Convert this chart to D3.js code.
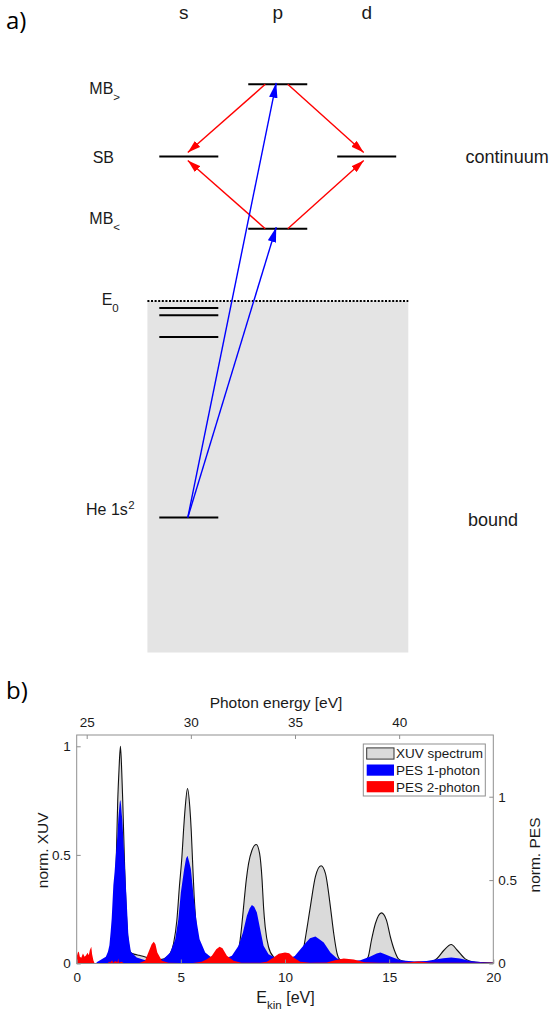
<!DOCTYPE html>
<html>
<head>
<meta charset="utf-8">
<script src="https://cdn.jsdelivr.net/npm/d3@7"></script>
<style>
  html, body { margin: 0; padding: 0; background: #fff; }
  svg { display: block; }
  text { font-family: "Liberation Sans", Arial, Helvetica, sans-serif; fill: #1a1a1a; }
  .panel-tag { font-family: "Open Sans", "Liberation Sans", sans-serif; font-size: 24px; fill: #000; }
</style>
</head>
<body>
<svg id="fig" width="553" height="1011"></svg>
<script>
// ---------------- Panel a: level scheme ----------------
const columns = ["s", "p", "d"];

// energy of each level in schematic units (E0 = 0)
const levelCols     = ["p", "s", "d", "p", "s", "s", "s", "s"];
const levelEnergies = [3, 2, 2, 1, -0.10, -0.20, -0.50, -3];

const thresholdEnergy = 0;     // E0
const boundBottom = -4.87;     // lower edge of the shaded bound region

// level names on the left: [main text, subscript, superscript, energy]
const levelNames = [
  ["MB", ">", "", 3],
  ["SB", "", "", 2],
  ["MB", "<", "", 1],
  ["E", "0", "", 0],
  ["He 1s", "", "2", -3]
];

// red: IR transitions MB -> SB ; blue: XUV transitions from the ground state
const irArrows = [
  [["p", 3], ["s", 2]],
  [["p", 3], ["d", 2]],
  [["p", 1], ["s", 2]],
  [["p", 1], ["d", 2]]
];
const xuvArrows = [
  [["s", -3], ["p", 3]],
  [["s", -3], ["p", 1]]
];

// ---------------- Panel b: spectra ----------------
// [E_kin (eV), normalised XUV intensity]
const xuvSpectrum = [
  [0,0],[1.0,0],[1.4,0.005],[1.6,0.02],[1.7,0.05],[1.8,0.18],[1.9,0.48],[1.97,0.75],[2.03,0.89],
  [2.1,1.0],[2.16,0.89],[2.21,0.75],[2.3,0.45],[2.4,0.2],[2.5,0.08],[2.6,0.05],[2.8,0.042],
  [3.0,0.038],[3.37,0.028],[3.7,0.022],[4.0,0.018],[4.2,0.022],[4.33,0.03],[4.49,0.046],
  [4.65,0.092],[4.81,0.2],[4.93,0.353],[5.05,0.49],[5.13,0.614],[5.21,0.72],[5.32,0.806],
  [5.43,0.72],[5.5,0.61],[5.56,0.476],[5.64,0.307],[5.74,0.169],[5.85,0.077],[6.09,0.03],
  [6.4,0.018],[6.8,0.012],[7.2,0.012],[7.5,0.02],[7.7,0.045],[7.82,0.09],[7.93,0.18],
  [8.04,0.29],[8.14,0.384],[8.25,0.46],[8.41,0.52],[8.62,0.548],[8.78,0.507],[8.9,0.384],
  [8.97,0.26],[9.05,0.168],[9.21,0.076],[9.45,0.03],[9.8,0.012],[10.2,0.008],[10.5,0.012],
  [10.7,0.02],[10.85,0.05],[11.0,0.13],[11.1,0.19],[11.24,0.276],[11.46,0.4],[11.73,0.45],
  [11.94,0.415],[12.18,0.261],[12.34,0.138],[12.5,0.046],[12.66,0.016],[12.9,0.01],
  [13.3,0.008],[13.8,0.01],[13.99,0.03],[14.15,0.107],[14.34,0.184],[14.63,0.233],
  [14.87,0.2],[15.06,0.122],[15.25,0.061],[15.46,0.02],[15.7,0.01],[16.2,0.005],
  [16.8,0.005],[17.1,0.01],[17.3,0.023],[17.63,0.061],[17.98,0.0875],[18.27,0.061],
  [18.67,0.02],[19.0,0.008],[19.5,0.004],[20,0.002]
];

// [E_kin (eV), normalised one-photon photoelectron yield]
const pes1Photon = [
  [0,0],[0.9,0],[1.0,0.01],[1.2,0.025],[1.4,0.04],[1.5,0.07],[1.57,0.11],[1.63,0.19],
  [1.68,0.27],[1.76,0.47],[1.82,0.55],[1.89,0.67],[1.95,0.76],[2.0,0.87],[2.04,0.93],
  [2.07,0.97],[2.1,0.98],[2.13,0.95],[2.16,0.9],[2.19,0.86],[2.25,0.72],[2.32,0.57],
  [2.4,0.37],[2.48,0.17],[2.6,0.07],[2.88,0.036],[3.37,0.016],[3.68,0.01],[4.16,0.026],
  [4.49,0.066],[4.73,0.146],[4.88,0.266],[5.0,0.426],[5.16,0.566],[5.25,0.63],[5.32,0.646],
  [5.4,0.61],[5.48,0.566],[5.61,0.406],[5.74,0.266],[5.9,0.146],[6.17,0.066],[6.57,0.026],
  [6.89,0.016],[7.45,0.046],[7.77,0.106],[7.98,0.186],[8.17,0.286],[8.3,0.33],[8.41,0.35],
  [8.52,0.34],[8.65,0.306],[8.81,0.206],[8.97,0.106],[9.21,0.056],[9.77,0.02],[10.2,0.03],
  [10.47,0.045],[10.74,0.086],[11.0,0.125],[11.2,0.152],[11.46,0.162],[11.65,0.145],
  [11.86,0.126],[12.18,0.066],[12.5,0.03],[12.98,0.012],[13.62,0.02],[14.1,0.042],
  [14.4,0.06],[14.58,0.066],[14.8,0.055],[15.06,0.042],[15.54,0.02],[16.2,0.012],
  [16.8,0.015],[17.15,0.022],[17.6,0.032],[17.98,0.036],[18.4,0.03],[18.9,0.015],
  [19.5,0.008],[20,0.005]
];

// [E_kin (eV), normalised two-photon (sideband) photoelectron yield]
const pes2Photon = [
  [0,0.04],[0.05,0.065],[0.1,0.072],[0.15,0.04],[0.22,0.035],[0.3,0.06],[0.38,0.04],
  [0.45,0.05],[0.52,0.065],[0.58,0.05],[0.63,0.08],[0.7,0.1],[0.74,0.055],[0.8,0.02],
  [0.86,0],[1.5,0],[1.55,0.012],[1.6,0.004],[1.7,0.02],[1.75,0.005],[1.85,0.015],
  [1.95,0.008],[2.0,0.03],[2.03,0.004],[2.15,0.01],[2.3,0],[3.0,0.003],[3.28,0.016],
  [3.44,0.066],[3.6,0.115],[3.7,0.13],[3.78,0.115],[3.87,0.066],[4.09,0.016],[4.4,0.004],
  [5.5,0.002],[6.0,0.01],[6.25,0.025],[6.49,0.046],[6.7,0.085],[6.86,0.1],[7.0,0.092],
  [7.21,0.046],[7.53,0.016],[7.9,0.004],[8.8,0.004],[9.13,0.01],[9.45,0.036],[9.7,0.058],
  [10.0,0.066],[10.2,0.062],[10.41,0.036],[10.73,0.01],[11.2,0.004],[12.0,0.006],
  [12.4,0.02],[12.82,0.03],[13.3,0.024],[13.8,0.008],[14.5,0.004],[15.5,0.004],[16.0,0.008],
  [16.4,0.012],[16.9,0.006],[17.5,0.004],[20,0.004]
];

const ionizationPotential = 24.52;   // photon energy = E_kin + Ip
const ekinTicks   = [0, 5, 10, 15, 20];
const photonTicks = [25, 30, 35, 40];
const xuvTicks    = [0, 0.5, 1];
const pesTicks    = [0, 0.5, 1];
const legendItems = ["XUV spectrum", "PES 1-photon", "PES 2-photon"];

const colXuvFill = "#dadada";
const colPes1 = "#0000ff";
const colPes2 = "#ff0000";
const colAxis = "#8f8f8f";

const svg = d3.select("#fig");
svg.append("rect").attr("width", 553).attr("height", 1011).attr("fill", "#fff");

// ================= panel a =================
const a = svg.append("g");
a.append("text").attr("class", "panel-tag").attr("x", 6).attr("y", 29).text("a)");

const xCol = d3.scalePoint().domain(columns).range([188.8, 366.7]);
const yE = d3.scaleLinear().domain([-3, 3]).range([517.5, 84.3]);
const halfW = 29.5;

// bound-state region
a.append("rect")
  .attr("x", 147.4).attr("width", 408.3 - 147.4)
  .attr("y", yE(thresholdEnergy)).attr("height", yE(boundBottom) - yE(thresholdEnergy))
  .attr("fill", "#e4e4e4");

// ionisation threshold
a.append("line")
  .attr("x1", 147.4).attr("x2", 408.3)
  .attr("y1", yE(thresholdEnergy)).attr("y2", yE(thresholdEnergy))
  .attr("stroke", "#000").attr("stroke-width", 2).attr("stroke-dasharray", "2,1.6");

// column headers
a.selectAll("text.col").data(columns).join("text")
  .attr("class", "col")
  .attr("x", (d, i) => xCol(d) + (i === 0 ? -5 : 0))
  .attr("y", 19)
  .attr("text-anchor", "middle")
  .style("font-size", "19px")
  .text(d => d);

// levels
a.selectAll("line.level").data(levelCols.map((c, i) => [c, levelEnergies[i]])).join("line")
  .attr("class", "level")
  .attr("x1", d => xCol(d[0]) - halfW).attr("x2", d => xCol(d[0]) + halfW)
  .attr("y1", d => yE(d[1])).attr("y2", d => yE(d[1]))
  .attr("stroke", "#000").attr("stroke-width", 2);

// level names
const nameX  = [89.3, 92.7, 89.3, 101.7, 86];
const nameDy = [10, 6.6, -4.7, 4.2, -2.5];
levelNames.forEach((n, i) => {
  const t = a.append("text").attr("x", nameX[i]).attr("y", yE(n[3]) + nameDy[i])
    .style("font-size", "16px").text(n[0]);
  if (n[1]) t.append("tspan").attr("dy", 7).style("font-size", "11.5px").text(n[1]);
  if (n[2]) t.append("tspan").attr("dy", -6).attr("dx", 0.5).style("font-size", "11.5px").text(n[2]);
});

a.append("text").attr("x", 465.6).attr("y", 163.3).style("font-size", "18px").text("continuum");
a.append("text").attr("x", 468).attr("y", 526).style("font-size", "18px").text("bound");

// arrow heads
const defs = svg.append("defs");
function head(id, color, len, wid) {
  defs.append("marker").attr("id", id)
    .attr("markerUnits", "userSpaceOnUse")
    .attr("viewBox", `0 0 ${len} ${wid}`)
    .attr("markerWidth", len).attr("markerHeight", wid)
    .attr("refX", len).attr("refY", wid / 2)
    .attr("orient", "auto")
    .append("path").attr("d", `M0,0L${len},${wid / 2}L0,${wid}Z`).attr("fill", color);
}
head("hr", colPes2, 13, 8);
head("hb", colPes1, 15, 8.5);

// IR arrows start slightly off-centre on the MB levels and stop just short of SB
a.selectAll("line.ir").data(irArrows).join("line")
  .attr("class", "ir")
  .attr("x1", d => xCol(d[0][0]) + (d[1][0] === "s" ? -12.5 : 10))
  .attr("y1", d => yE(d[0][1]))
  .attr("x2", d => xCol(d[1][0]) + (d[1][0] === "s" ? -1 : -3))
  .attr("y2", d => yE(d[1][1]) + (d[0][1] > d[1][1] ? -4 : 4))
  .attr("stroke", colPes2).attr("stroke-width", 1.4)
  .attr("marker-end", "url(#hr)");

a.selectAll("line.xuv").data(xuvArrows).join("line")
  .attr("class", "xuv")
  .attr("x1", d => xCol(d[0][0]) - 1).attr("y1", d => yE(d[0][1]))
  .attr("x2", d => xCol(d[1][0]) - 1.5).attr("y2", d => yE(d[1][1]) - 1.5)
  .attr("stroke", colPes1).attr("stroke-width", 1.4)
  .attr("marker-end", "url(#hb)");

// ================= panel b =================
const b = svg.append("g");
b.append("text").attr("class", "panel-tag").attr("x", 6).attr("y", 699).text("b)");

const L = 76.7, R = 493.3, T = 735, B = 963.5;
const x = d3.scaleLinear().domain([0, 20]).range([L, R]);
const xPh = d3.scaleLinear().domain([ionizationPotential, ionizationPotential + 20]).range([L, R]);
const yXuv = d3.scaleLinear().domain([0, 1.052]).range([B, T]);
const yPes = d3.scaleLinear().domain([0, 1.37]).range([B, T]);

defs.append("clipPath").attr("id", "plotclip")
  .append("rect").attr("x", L).attr("y", T).attr("width", R - L).attr("height", B - T);

const plot = b.append("g").attr("clip-path", "url(#plotclip)");

const xuvArea = d3.area().x(d => x(d[0])).y0(B).y1(d => yXuv(d[1])).curve(d3.curveMonotoneX);
const xuvLine = d3.line().x(d => x(d[0])).y(d => yXuv(d[1])).curve(d3.curveMonotoneX);
const pesArea = d3.area().x(d => x(d[0])).y0(B).y1(d => yPes(d[1])).curve(d3.curveLinear);

plot.append("path").datum(xuvSpectrum).attr("d", xuvArea).attr("fill", colXuvFill);
plot.append("path").datum(xuvSpectrum).attr("d", xuvLine)
  .attr("fill", "none").attr("stroke", "#111").attr("stroke-width", 1.1);
plot.append("path").datum(pes1Photon).attr("d", pesArea).attr("fill", colPes1);
plot.append("path").datum(pes2Photon).attr("d", pesArea).attr("fill", colPes2);

// axes (ticks point inward)
function styleAxis(g) {
  g.select(".domain").remove();
  g.selectAll(".tick line").attr("stroke", colAxis);
  g.selectAll(".tick text").style("font-size", "13.5px").attr("fill", "#1a1a1a")
    .style("font-family", '"Liberation Sans", Arial, sans-serif');
}
const fmt = d => String(d);
b.append("g").attr("transform", `translate(0,${B})`)
  .call(d3.axisBottom(x).tickValues(ekinTicks).tickFormat(fmt).tickSizeInner(-4).tickSizeOuter(0).tickPadding(9))
  .call(styleAxis);
b.append("g").attr("transform", `translate(0,${T})`)
  .call(d3.axisTop(xPh).tickValues(photonTicks).tickFormat(fmt).tickSizeInner(-4).tickSizeOuter(0).tickPadding(8))
  .call(styleAxis);
b.append("g").attr("transform", `translate(${L},0)`)
  .call(d3.axisLeft(yXuv).tickValues(xuvTicks).tickFormat(fmt).tickSizeInner(-4).tickSizeOuter(0).tickPadding(6))
  .call(styleAxis);
b.append("g").attr("transform", `translate(${R},0)`)
  .call(d3.axisRight(yPes).tickValues(pesTicks).tickFormat(fmt).tickSizeInner(-4).tickSizeOuter(0).tickPadding(5))
  .call(styleAxis);

b.append("rect").attr("x", L).attr("y", T).attr("width", R - L).attr("height", B - T)
  .attr("fill", "none").attr("stroke", colAxis).attr("stroke-width", 1);

// axis titles
b.append("text").attr("x", 276).attr("y", 708).attr("text-anchor", "middle")
  .style("font-size", "15.5px").text("Photon energy [eV]");
const ek = b.append("text").attr("x", 285.5).attr("y", 1003.3).attr("text-anchor", "middle")
  .style("font-size", "16px");
ek.append("tspan").text("E");
ek.append("tspan").attr("dy", 6).style("font-size", "11.5px").text("kin");
ek.append("tspan").attr("dy", -6).text(" [eV]");
b.append("text").attr("transform", `translate(47.5,${(T + B) / 2 + 1}) rotate(-90)`)
  .attr("text-anchor", "middle").style("font-size", "15.5px").text("norm. XUV");
b.append("text").attr("transform", `translate(539.5,855) rotate(-90)`)
  .attr("text-anchor", "middle").style("font-size", "15.5px").text("norm. PES");

// legend
const lg = b.append("g");
lg.append("rect").attr("x", 363.3).attr("y", 744).attr("width", 122).attr("height", 52)
  .attr("fill", "#fff").attr("stroke", colAxis).attr("stroke-width", 1);
const swFill = [colXuvFill, colPes1, colPes2];
const swStroke = ["#333", "none", "none"];
legendItems.forEach((label, i) => {
  const cy = 753.5 + i * 16.6;
  lg.append("rect").attr("x", 366.7).attr("y", cy - 5.6).attr("width", 27.3).attr("height", 11.2)
    .attr("fill", swFill[i]).attr("stroke", swStroke[i]).attr("stroke-width", 1);
  lg.append("text").attr("x", 396).attr("y", cy + 4.8).style("font-size", "13.5px").text(label);
});
</script>
</body>
</html>
